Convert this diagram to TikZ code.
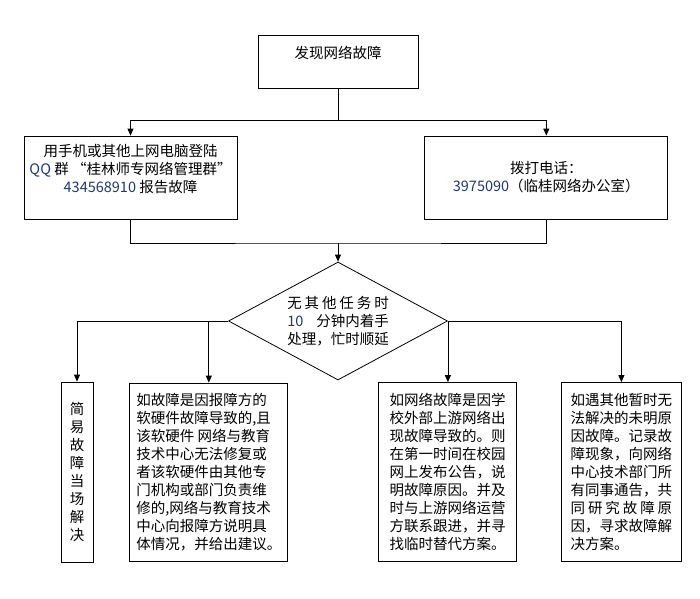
\documentclass[tikz,border=0pt]{standalone}
\usepackage{fontspec}
\setmainfont{Noto Sans CJK SC}
\usepackage{tikz}
\usetikzlibrary{shapes.geometric, arrows.meta, calc, positioning}
\definecolor{numblue}{RGB}{31,56,112}
\tikzstyle{block} = [rectangle, draw=black, inner sep=0pt, align=center,
font=\fontsize{14.5}{18}\selectfont]
\tikzstyle{textblock} = [block, align=left]
\tikzstyle{decision} = [diamond, aspect=1.85, draw=black, inner sep=0pt, minimum width=219pt,
minimum height=118pt, align=left, font=\fontsize{14.5}{18}\selectfont]
\tikzstyle{arrow} = [->,>={Triangle[length=7pt,width=6pt]}]

\begin{document}
\begin{tikzpicture}[x=1pt, y=-1pt, line width=0.8pt]
      \useasboundingbox (0,0) rectangle (700,598);

      \node (report) [block, minimum width=160pt, minimum height=53pt] at (338,61.5) {发现网络故障\\ \mbox{}};

      \node (online) [block, minimum width=213pt, minimum height=83pt] at (130.5,177.5)
      {用手机或其他上网电脑登陆\\ \textcolor{numblue}{QQ} 群 “桂林师专网络管理群”\\ \textcolor{numblue}{434568910} 报告故障\\ \mbox{}};
      \node (phone) [block, minimum width=243pt, minimum height=83pt, right=187pt of online]
      {拨打电话：\\ \textcolor{numblue}{3975090}（临桂网络办公室）};

      \node (judge) [decision] at (338,321)
      {\makebox[7em][s]{无 其 他 任 务 时}\\ \makebox[7em][s]{\textcolor{numblue}{10}\hfill 分钟内着手}\\ 处理，忙时顺延};

      \node (simple) [block, minimum width=32pt, minimum height=180pt] at (77,472)
      {简\\易\\故\\障\\当\\场\\解\\决};
      \node (device) [textblock, minimum width=158pt, minimum height=178pt, right=36pt of simple]
      {如故障是因报障方的\\ 软硬件故障导致的,且\\ 该软硬件 网络与教育\\ 技术中心无法修复或\\ 者该软硬件由其他专\\
       门机构或部门负责维\\ 修的,网络与教育技术\\ 中心向报障方说明具\\ 体情况，并给出建议。};
      \node (upstream) [textblock, minimum width=138pt, minimum height=179pt, right=90pt of device]
      {如网络故障是因学\\ 校外部上游网络出\\ 现故障导致的。则\\ 在第一时间在校园\\ 网上发布公告，说\\
       明故障原因。并及\\ 时与上游网络运营\\ 方联系跟进，并寻\\ 找临时替代方案。};
      \node (unknown) [textblock, minimum width=120pt, minimum height=179pt, right=44pt of upstream]
      {如遇其他暂时无\\ 法解决的未明原\\ 因故障。记录故\\ 障现象，向网络\\ 中心技术部门所\\
       有同事通告，共\\ \makebox[7em][s]{同 研 究 故 障 原}\\ 因，寻求故障解\\ 决方案。};

      \coordinate (split) at (338,120);
      \coordinate (merge) at (338,243);

      \draw (report) -- (split);
      \draw [arrow] (split) -| (online);
      \draw [arrow] (split) -| (phone);
      \draw (online) |- (merge) -| (phone);
      \draw [arrow] (merge) -- (judge);
      \draw [arrow] (judge.west) -| (simple);
      \draw [arrow] (judge.west -| device) -- (device);
      \draw [arrow] (judge.east) -- (judge.east |- upstream.north);
      \draw [arrow] (judge.east) -| (unknown);
    \end{tikzpicture}
\end{document}
